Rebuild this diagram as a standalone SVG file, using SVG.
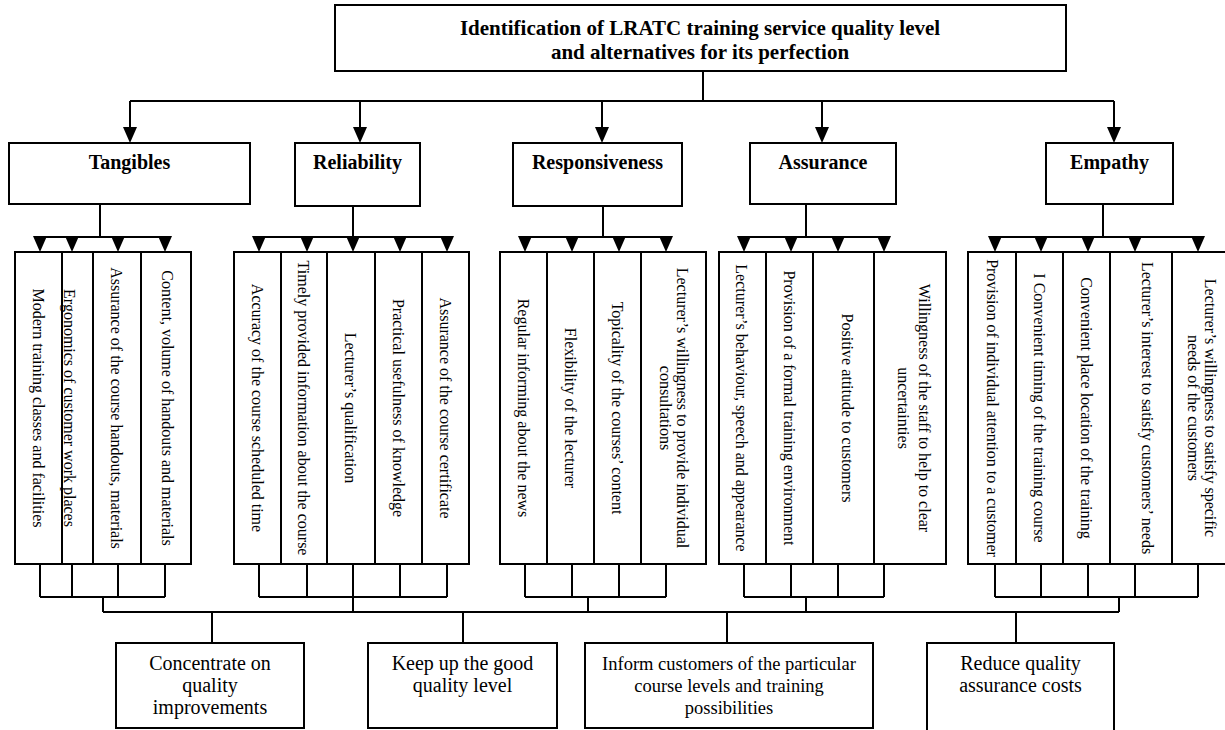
<svg xmlns="http://www.w3.org/2000/svg" width="1225" height="730" viewBox="0 0 1225 730">
<style>
  .box { fill: #fff; stroke: #000; stroke-width: 2; }
  .col { fill: #fff; stroke: #000; stroke-width: 2; }
  .ln { fill: none; stroke: #000; stroke-width: 2; }
  .title { font-family: "Liberation Serif", "Times New Roman", serif; font-size: 21px; font-weight: bold; text-anchor: middle; fill: #000; }
  .cat { font-family: "Liberation Serif", "Times New Roman", serif; font-size: 20px; font-weight: bold; text-anchor: middle; fill: #000; }
  .vt { font-family: "Liberation Serif", "Times New Roman", serif; font-size: 16px; text-anchor: middle; dominant-baseline: central; fill: #000; }
  .bt { font-family: "Liberation Serif", "Times New Roman", serif; font-size: 20px; text-anchor: middle; fill: #000; }
  .bt2 { font-family: "Liberation Serif", "Times New Roman", serif; font-size: 18.5px; text-anchor: middle; fill: #000; }
</style>
<defs>
  <path id="tri" d="M-7,0 L7,0 L0,16 Z" fill="#000"/>
</defs>
<rect width="1225" height="730" fill="#fff"/>

<g id="connectors">
  <!-- top tree -->
  <path class="ln" d="M703,71 V101 M130,101 H1114 M130,101 V128 M360,101 V128 M602,101 V128 M822,101 V128 M1114,101 V128"/>
  <use href="#tri" x="130" y="127"/>
  <use href="#tri" x="360" y="127"/>
  <use href="#tri" x="602" y="127"/>
  <use href="#tri" x="822" y="127"/>
  <use href="#tri" x="1114" y="127"/>
  <!-- category stems and bars -->
  <path class="ln" d="M100,204 V237 M40,237 H165 M353,206 V237 M259,237 H447 M603,206 V237 M525,237 H666 M806,204 V237 M744,237 H884 M1103,204 V237 M995,237 H1198"/>
  <use href="#tri" x="40" y="236"/><use href="#tri" x="72" y="236"/><use href="#tri" x="118" y="236"/><use href="#tri" x="165" y="236"/>
  <use href="#tri" x="259" y="236"/><use href="#tri" x="307" y="236"/><use href="#tri" x="353" y="236"/><use href="#tri" x="400" y="236"/><use href="#tri" x="447" y="236"/>
  <use href="#tri" x="525" y="236"/><use href="#tri" x="572" y="236"/><use href="#tri" x="619" y="236"/><use href="#tri" x="666" y="236"/>
  <use href="#tri" x="744" y="236"/><use href="#tri" x="791" y="236"/><use href="#tri" x="838" y="236"/><use href="#tri" x="884" y="236"/>
  <use href="#tri" x="995" y="236"/><use href="#tri" x="1041" y="236"/><use href="#tri" x="1088" y="236"/><use href="#tri" x="1135" y="236"/><use href="#tri" x="1198" y="236"/>
  <!-- bottom brackets -->
  <path class="ln" d="M40,564 V597 M72,564 V597 M118,564 V597 M165,564 V597 M40,597 H165 M103,597 V612"/>
  <path class="ln" d="M259,564 V597 M307,564 V597 M353,564 V597 M400,564 V597 M447,564 V597 M259,597 H447 M353,597 V612"/>
  <path class="ln" d="M525,564 V597 M572,564 V597 M619,564 V597 M666,564 V597 M525,597 H666 M588,597 V612"/>
  <path class="ln" d="M744,564 V597 M791,564 V597 M838,564 V597 M884,564 V597 M744,597 H884 M806,597 V612"/>
  <path class="ln" d="M995,564 V597 M1041,564 V597 M1088,564 V597 M1135,564 V597 M1198,564 V597 M995,597 H1198 M1119,597 V612"/>
  <path class="ln" d="M103,612 H1119 M212,612 V643 M463,612 V643 M727,612 V643 M1016,612 V643"/>
</g>

<g id="title">
  <rect class="box" x="335" y="5" width="731" height="66"/>
  <text class="title" x="700" y="35">Identification of LRATC training service quality level</text>
  <text class="title" x="700" y="59">and alternatives for its perfection</text>
</g>

<g id="tangibles">
  <rect class="box" x="9" y="143" width="241" height="61"/>
  <text class="cat" x="129.5" y="169">Tangibles</text>
</g>
<g id="reliability">
  <rect class="box" x="295" y="143" width="125" height="63"/>
  <text class="cat" x="357.5" y="169">Reliability</text>
</g>
<g id="responsiveness">
  <rect class="box" x="513" y="143" width="169" height="63"/>
  <text class="cat" x="597.5" y="169">Responsiveness</text>
</g>
<g id="assurance">
  <rect class="box" x="750" y="143" width="146" height="61"/>
  <text class="cat" x="823" y="169">Assurance</text>
</g>
<g id="empathy">
  <rect class="box" x="1046" y="143" width="127" height="61"/>
  <text class="cat" x="1109.5" y="169">Empathy</text>
</g>

<!-- Tangibles items -->
<g id="t1"><rect class="col" x="15" y="252" width="47" height="312"/><text class="vt" transform="translate(38,408) rotate(90)">Modern training classes and facilities</text></g>
<g id="t2"><rect class="col" x="62" y="252" width="31" height="312"/><text class="vt" transform="translate(69,408) rotate(90)">Ergonomics of customer work places</text></g>
<g id="t3"><rect class="col" x="93" y="252" width="48" height="312"/><text class="vt" transform="translate(116,408) rotate(90)">Assurance of the course handouts, materials</text></g>
<g id="t4"><rect class="col" x="141" y="252" width="50" height="312"/><text class="vt" transform="translate(167,408) rotate(90)">Content, volume of handouts and materials</text></g>

<!-- Reliability items -->
<g id="r1"><rect class="col" x="234" y="252" width="47" height="312"/><text class="vt" transform="translate(257,408) rotate(90)">Accuracy of the course scheduled time</text></g>
<g id="r2"><rect class="col" x="281" y="252" width="46" height="312"/><text class="vt" transform="translate(303,408) rotate(90)">Timely provided information about the course</text></g>
<g id="r3"><rect class="col" x="327" y="252" width="48" height="312"/><text class="vt" transform="translate(350,408) rotate(90)">Lecturer’s qualification</text></g>
<g id="r4"><rect class="col" x="375" y="252" width="47" height="312"/><text class="vt" transform="translate(398,408) rotate(90)">Practical usefulness of knowledge</text></g>
<g id="r5"><rect class="col" x="422" y="252" width="47" height="312"/><text class="vt" transform="translate(445,408) rotate(90)">Assurance of the course certificate</text></g>

<!-- Responsiveness items -->
<g id="s1"><rect class="col" x="500" y="252" width="47" height="312"/><text class="vt" transform="translate(523,408) rotate(90)">Regular informing about the news</text></g>
<g id="s2"><rect class="col" x="547" y="252" width="47" height="312"/><text class="vt" transform="translate(570,408) rotate(90)">Flexibility of the lecturer</text></g>
<g id="s3"><rect class="col" x="594" y="252" width="47" height="312"/><text class="vt" transform="translate(617,408) rotate(90)">Topicality of the courses’ content</text></g>
<g id="s4"><rect class="col" x="641" y="252" width="65" height="312"/><text class="vt" transform="translate(682,408) rotate(90)">Lecturer’s willingness to provide individual</text><text class="vt" transform="translate(665,408) rotate(90)">consultations</text></g>

<!-- Assurance items -->
<g id="a1"><rect class="col" x="719" y="252" width="47" height="312"/><text class="vt" transform="translate(741,408) rotate(90)">Lecturer’s behaviour, speech and appearance</text></g>
<g id="a2"><rect class="col" x="766" y="252" width="47" height="312"/><text class="vt" transform="translate(789,408) rotate(90)">Provision of a formal training environment</text></g>
<g id="a3"><rect class="col" x="813" y="252" width="61" height="312"/><text class="vt" transform="translate(847,408) rotate(90)">Positive attitude to customers</text></g>
<g id="a4"><rect class="col" x="874" y="252" width="72" height="312"/><text class="vt" transform="translate(924,408) rotate(90)">Willingness of the staff to help to clear</text><text class="vt" transform="translate(903,408) rotate(90)">uncertainties</text></g>

<!-- Empathy items -->
<g id="e1"><rect class="col" x="968" y="252" width="48" height="312"/><text class="vt" transform="translate(992,408) rotate(90)">Provision of individual attention to a customer</text></g>
<g id="e2"><rect class="col" x="1016" y="252" width="47" height="312"/><text class="vt" transform="translate(1039,408) rotate(90)">I Convenient timing of the training course</text></g>
<g id="e3"><rect class="col" x="1063" y="252" width="47" height="312"/><text class="vt" transform="translate(1086,408) rotate(90)">Convenient place location of the training</text></g>
<g id="e4"><rect class="col" x="1110" y="252" width="62" height="312"/><text class="vt" transform="translate(1147,408) rotate(90)">Lecturer’s interest to satisfy customers’ needs</text></g>
<g id="e5"><rect class="col" x="1172" y="252" width="70" height="312"/><text class="vt" transform="translate(1210,408) rotate(90)">Lecturer’s willingness to satisfy specific</text><text class="vt" transform="translate(1193,408) rotate(90)">needs of the customers</text></g>

<!-- Bottom boxes -->
<g id="b1">
  <rect class="box" x="116" y="643" width="188" height="85"/>
  <text class="bt" x="210" y="670">Concentrate on</text>
  <text class="bt" x="210" y="692">quality</text>
  <text class="bt" x="210" y="714">improvements</text>
</g>
<g id="b2">
  <rect class="box" x="368" y="643" width="189" height="85"/>
  <text class="bt" x="462.5" y="670">Keep up the good</text>
  <text class="bt" x="462.5" y="692">quality level</text>
</g>
<g id="b3">
  <rect class="box" x="585" y="643" width="288" height="85"/>
  <text class="bt2" x="729" y="670">Inform customers of the particular</text>
  <text class="bt2" x="729" y="692">course levels and training</text>
  <text class="bt2" x="729" y="714">possibilities</text>
</g>
<g id="b4">
  <rect class="box" x="927" y="643" width="187" height="95"/>
  <text class="bt" x="1020.5" y="670">Reduce quality</text>
  <text class="bt" x="1020.5" y="692">assurance costs</text>
</g>
</svg>
